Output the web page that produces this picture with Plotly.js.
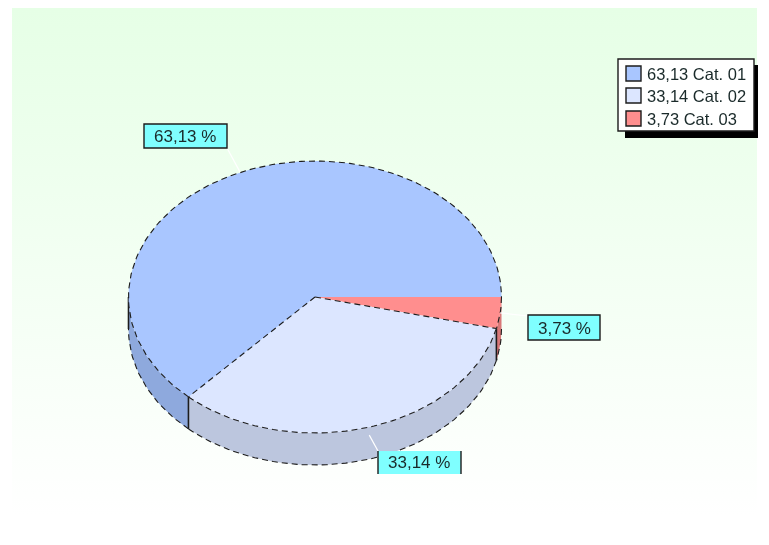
<!DOCTYPE html>
<html><head><meta charset="utf-8">
<script src="https://cdn.plot.ly/plotly-3.0.1.min.js"></script>
<style>html,body{margin:0;padding:0;background:#fff}#c{width:769px;height:545px;filter:blur(0.45px)}</style>
</head><body><div id="c"></div>
<script>
// Data
const categories = ['Cat. 01', 'Cat. 02', 'Cat. 03'];
const values = [63.13, 33.14, 3.73];
const labelText = ['63,13 %', '33,14 %', '3,73 %'];
const legendText = ['63,13 Cat. 01', '33,14 Cat. 02', '3,73 Cat. 03'];
const topColors = ['#a9c6ff', '#dce6ff', '#ff8e8e'];
const sideColors = ['#8ea9dd', '#bcc6de', '#d87878'];
const drawOrder = [2, 1, 0]; // clockwise from east

// Geometry of the tilted pie
const cx = 315, cy = 297, rx = 186.5, ry = 136, depth = 32;
const px = a => cx + rx * Math.cos(a * Math.PI / 180);
const py = (a, d = 0) => cy + ry * Math.sin(a * Math.PI / 180) + d;
function arc(a0, a1, d = 0) {
  const x = [], y = [], n = Math.max(2, Math.ceil(Math.abs(a1 - a0) / 1.5));
  for (let i = 0; i <= n; i++) { const a = a0 + (a1 - a0) * i / n; x.push(px(a)); y.push(py(a, d)); }
  return { x, y };
}
const total = values.reduce((s, v) => s + v, 0);
const traces = [];
const base = { type: 'scatter', mode: 'lines', hoverinfo: 'skip', showlegend: false };
const ink = '#1c1c1c';
const dashed = { color: ink, width: 1.1, dash: '6px,4px' };

// Background gradient panel
traces.push({ ...base, x: [12, 757, 757, 12, 12], y: [8, 8, 516, 516, 8], fill: 'toself', line: { width: 0 },
  fillcolor: '#e6ffe6',
  fillgradient: { type: 'vertical', colorscale: [[0, '#ffffff'], [1, '#e6ffe6']] } });

// Slices
let angle = 0; const spans = {};
drawOrder.forEach(i => { const a0 = angle; angle += values[i] / total * 360; spans[i] = [a0, angle]; });

// Side walls
drawOrder.forEach(i => {
  const [a0, a1] = spans[i];
  const s0 = Math.min(a0, 180), s1 = Math.min(a1, 180);
  if (s1 <= s0) return;
  const t = arc(s0, s1), b = arc(s1, s0, depth);
  traces.push({ ...base, x: t.x.concat(b.x, t.x[0]), y: t.y.concat(b.y, t.y[0]), fill: 'toself',
    fillcolor: sideColors[i], line: { width: 0 } });
  const lo = arc(s0, s1, depth);
  traces.push({ ...base, x: lo.x, y: lo.y, line: dashed });
  // vertical edge where a slice boundary meets the wall
  if (a0 > 0) traces.push({ ...base, x: [px(a0), px(a0)], y: [py(a0), py(a0, depth)], line: { color: ink, width: 1.6 } });
});
traces.push({ ...base, x: [px(180), px(180)], y: [py(180), py(180, depth)], line: { color: ink, width: 1.6 } });

// Top faces
drawOrder.forEach(i => {
  const [a0, a1] = spans[i];
  const t = arc(a0, a1);
  traces.push({ ...base, x: [cx].concat(t.x, cx), y: [cy].concat(t.y, cy), fill: 'toself',
    fillcolor: topColors[i], line: { width: 0 } });
});
// Outlines of the top face
drawOrder.forEach(i => {
  const [a0, a1] = spans[i];
  const t = arc(a0, a1);
  traces.push({ ...base, x: t.x, y: t.y, line: dashed });
  if (a1 < 360) traces.push({ ...base, x: [cx, px(a1)], y: [cy, py(a1)], line: dashed });
});

// Label boxes
const boxes = [
  { x0: 144, x1: 227, y0: 124, y1: 148, cx: 185, cy: 136, from: [227, 148], sides: false },
  { x0: 378, x1: 461, y0: 451, y1: 474, cx: 419, cy: 462, from: [378, 451], sides: true },
  { x0: 528, x1: 600, y0: 315, y1: 340, cx: 564, cy: 328, from: [528, 316], sides: false }
];
const shapes = [], annotations = [];
const txt = (t, x, y, xanchor, size) => ({ text: t, x, y, xref: 'x', yref: 'y', xanchor, yanchor: 'middle', showarrow: false,
  font: { family: 'Liberation Sans, Arial, sans-serif', size, color: '#1a2a2a' } });
const rect = (x0, y0, x1, y1, fill, line) => ({ type: 'rect', xref: 'x', yref: 'y', x0, y0, x1, y1, fillcolor: fill,
  line: line ? { color: line, width: 1.4 } : { width: 0 }, layer: 'above' });

[0, 1, 2].forEach(i => {
  const b = boxes[i];
  const mid = (spans[i][0] + spans[i][1]) / 2;
  const d = (mid > 0 && mid < 180 && i === 1) ? 8 : 0;
  traces.push({ ...base, x: [px(mid), b.from[0]], y: [py(mid, d), b.from[1]], line: { color: '#ffffff', width: 1.2 } });
  if (b.sides) {
    shapes.push(rect(b.x0, b.y0, b.x1, b.y1, '#7fffff', null));
    shapes.push({ type: 'line', xref: 'x', yref: 'y', x0: b.x0, x1: b.x0, y0: b.y0, y1: b.y1, line: { color: ink, width: 1.4 }, layer: 'above' });
    shapes.push({ type: 'line', xref: 'x', yref: 'y', x0: b.x1, x1: b.x1, y0: b.y0, y1: b.y1, line: { color: ink, width: 1.4 }, layer: 'above' });
  } else {
    shapes.push(rect(b.x0, b.y0, b.x1, b.y1, '#7fffff', ink));
  }
  annotations.push(txt(labelText[i], b.cx, b.cy, 'center', 17));
});

// Legend
shapes.push(rect(625, 65, 758, 138, '#000000', null));
shapes.push(rect(618, 59, 754, 131, '#ffffff', ink));
const rowY = [73.5, 95.5, 118.5];
categories.forEach((c, i) => {
  shapes.push(rect(626, rowY[i] - 7.5, 641, rowY[i] + 7.5, topColors[i], ink));
  annotations.push(txt(legendText[i], 645, rowY[i], 'left', 16.5));
});

const layout = {
  width: 769, height: 545, margin: { l: 0, r: 0, t: 0, b: 0 },
  paper_bgcolor: '#ffffff', plot_bgcolor: '#ffffff', showlegend: false,
  xaxis: { range: [0, 769], visible: false, fixedrange: true },
  yaxis: { range: [545, 0], visible: false, fixedrange: true },
  shapes, annotations
};
Plotly.newPlot('c', traces, layout, { displayModeBar: false, staticPlot: true });
</script></body></html>
